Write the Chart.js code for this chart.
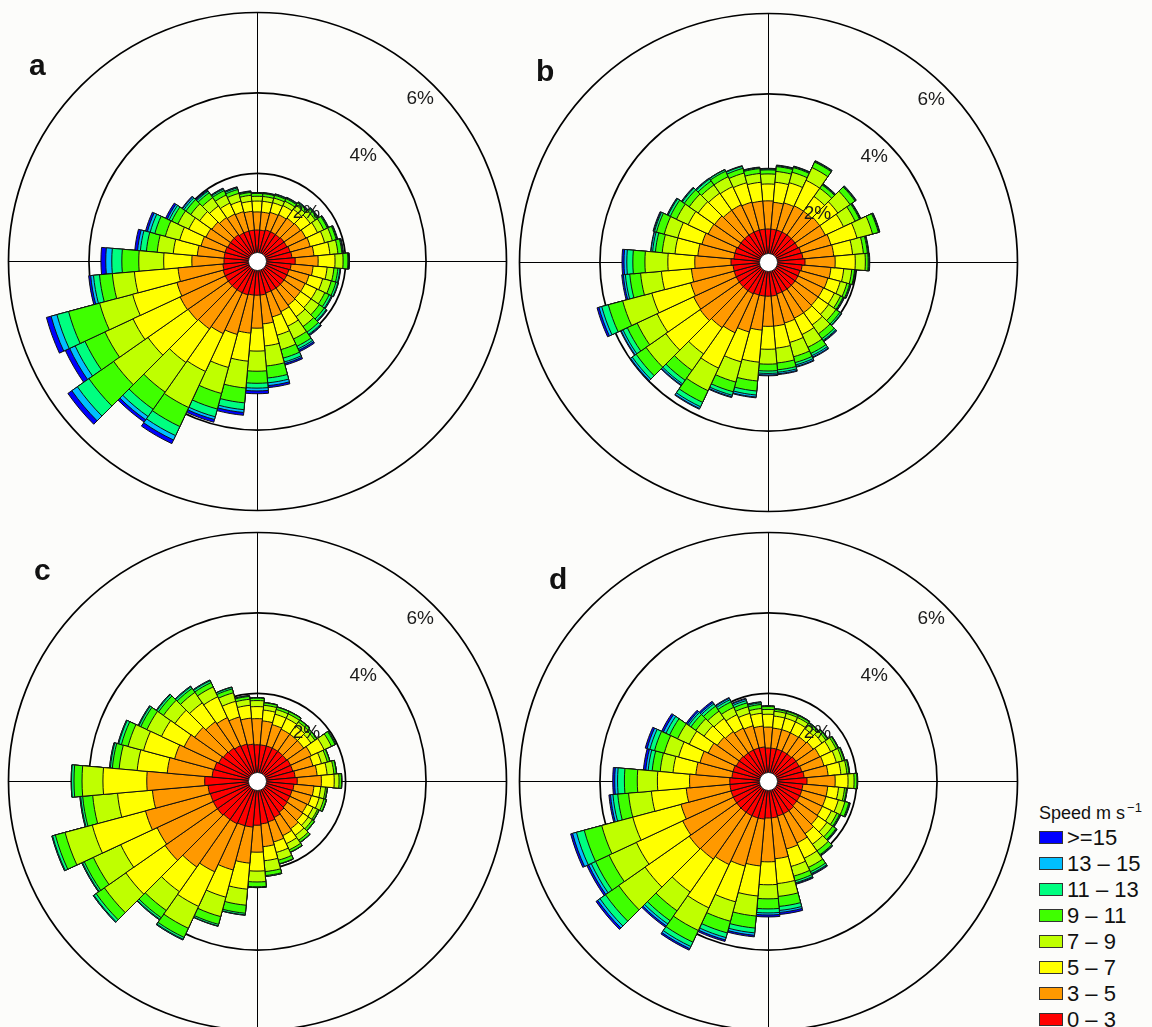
<!DOCTYPE html>
<html>
<head>
<meta charset="utf-8">
<title>Wind roses</title>
<script src="https://cdn.jsdelivr.net/npm/chart.js@4.4.1/dist/chart.umd.min.js"></script>
<style>
  html, body { margin: 0; padding: 0; width: 1152px; height: 1027px; overflow: hidden; background: #fcfcfa; }
  body { position: relative; font-family: "Liberation Sans", Arial, Helvetica, sans-serif; color: #111; }
  canvas.rose { position: absolute; }
  .tag { position: absolute; font-weight: bold; font-size: 30px; line-height: 30px; color: #111; }
  .legend-title { position: absolute; font-size: 18px; line-height: 18px; white-space: nowrap; }
  .legend-title sup { font-size: 13px; vertical-align: 7px; line-height: 0; margin-left: 2px; }
  .legend-box { position: absolute; width: 22px; height: 11px; border: 1px solid #333; }
  .legend-text { position: absolute; font-size: 22px; line-height: 22px; white-space: nowrap; }
</style>
</head>
<body>
<canvas id="rose-a" class="rose" width="506" height="506" style="left:4px;top:8px"></canvas>
<canvas id="rose-b" class="rose" width="506" height="506" style="left:515px;top:9px"></canvas>
<canvas id="rose-c" class="rose" width="506" height="506" style="left:4px;top:528px"></canvas>
<canvas id="rose-d" class="rose" width="506" height="506" style="left:515px;top:528px"></canvas>
<div class="tag" style="left:29px;top:50px">a</div>
<div class="tag" style="left:536px;top:56px">b</div>
<div class="tag" style="left:34px;top:555px">c</div>
<div class="tag" style="left:549px;top:564px">d</div>
<div id="legend"></div>
<script>
// Wind direction bins (degrees, centre of each 10° sector, clockwise from north)
const DIRECTIONS = [0, 10, 20, 30, 40, 50, 60, 70, 80, 90, 100, 110, 120, 130, 140, 150, 160, 170,
                    180, 190, 200, 210, 220, 230, 240, 250, 260, 270, 280, 290, 300, 310, 320, 330, 340, 350];
// Wind speed classes (m s-1), innermost first
const SPEED_BINS = ['0 \u2013 3', '3 \u2013 5', '5 \u2013 7', '7 \u2013 9', '9 \u2013 11', '11 \u2013 13', '13 \u2013 15', '>=15'];
const COLORS = ['#ff0000', '#ff9900', '#ffff00', '#bfff00', '#3fff00', '#00ff80', '#00bfff', '#0000ff'];
// Frequency rings (%)
const RINGS = [2, 4, 6];
const RING_LABELS = ['2%', '4%', '6%'];

// Panel a: frequency (%) per direction for each speed class
const a_0_3   = [0.58,0.58,0.61,0.61,0.61,0.63,0.63,0.66,0.68,0.76,0.66,0.63,0.63,0.63,0.63,0.63,0.63,0.66,0.66,0.66,0.68,0.68,0.68,0.68,0.68,0.68,0.66,0.63,0.63,0.63,0.61,0.61,0.61,0.58,0.58,0.58];
const a_3_5   = [0.45,0.45,0.45,0.47,0.50,0.50,0.52,0.52,0.55,0.57,0.55,0.52,0.50,0.50,0.52,0.57,0.62,0.72,0.82,0.95,1.02,1.12,1.19,1.22,1.24,1.19,1.12,0.80,0.67,0.62,0.60,0.57,0.52,0.52,0.50,0.47];
const a_5_7   = [0.27,0.27,0.25,0.25,0.27,0.30,0.32,0.37,0.40,0.42,0.35,0.35,0.32,0.32,0.35,0.40,0.47,0.55,0.57,0.70,0.85,1.04,1.02,1.22,1.29,1.14,1.09,0.70,0.60,0.55,0.47,0.37,0.35,0.30,0.27,0.25];
const a_7_9   = [0.12,0.12,0.12,0.12,0.12,0.15,0.17,0.20,0.20,0.20,0.17,0.22,0.22,0.25,0.30,0.35,0.37,0.50,0.50,0.67,0.67,0.99,0.90,1.04,0.77,0.85,0.55,0.62,0.40,0.37,0.30,0.27,0.25,0.22,0.20,0.15];
const a_9_11  = [0.07,0.07,0.07,0.07,0.07,0.07,0.10,0.10,0.10,0.12,0.10,0.12,0.12,0.15,0.17,0.20,0.22,0.30,0.30,0.37,0.40,0.52,0.52,0.75,0.55,0.80,0.32,0.42,0.27,0.27,0.17,0.15,0.15,0.12,0.10,0.07];
const a_11_13 = [0.01,0.01,0.02,0.02,0.02,0.02,0.02,0.02,0.02,0.02,0.05,0.05,0.06,0.06,0.07,0.07,0.10,0.12,0.12,0.17,0.20,0.25,0.22,0.35,0.27,0.30,0.15,0.25,0.15,0.12,0.07,0.06,0.05,0.04,0.04,0.02];
const a_13_15 = [0.01,0.01,0.01,0.01,0.01,0.01,0.01,0.01,0.01,0.01,0.01,0.01,0.02,0.02,0.02,0.04,0.04,0.07,0.07,0.07,0.07,0.12,0.10,0.17,0.15,0.15,0.07,0.15,0.07,0.07,0.05,0.04,0.02,0.02,0.02,0.01];
const a_15    = [0.00,0.01,0.01,0.01,0.01,0.01,0.01,0.01,0.01,0.01,0.01,0.01,0.01,0.01,0.02,0.04,0.04,0.05,0.07,0.07,0.07,0.10,0.07,0.12,0.12,0.12,0.05,0.12,0.07,0.05,0.05,0.02,0.02,0.01,0.01,0.01];

// Panel b
const b_0_3   = [0.63,0.63,0.63,0.63,0.63,0.63,0.63,0.66,0.68,0.73,0.66,0.63,0.63,0.63,0.63,0.63,0.63,0.66,0.66,0.66,0.66,0.68,0.68,0.68,0.68,0.68,0.68,0.73,0.66,0.66,0.63,0.63,0.63,0.63,0.63,0.63];
const b_3_5   = [0.70,0.67,0.70,0.72,0.72,0.75,0.75,0.77,0.77,0.75,0.72,0.72,0.70,0.70,0.72,0.72,0.75,0.75,0.75,0.85,0.95,1.07,1.12,1.19,1.17,1.12,1.04,0.90,0.90,0.85,0.82,0.80,0.75,0.75,0.72,0.70];
const b_5_7   = [0.42,0.50,0.52,0.70,0.45,0.55,0.50,0.67,0.47,0.50,0.32,0.32,0.30,0.32,0.37,0.45,0.50,0.55,0.57,0.80,0.77,0.97,0.80,1.04,1.00,1.00,0.75,0.67,0.57,0.62,0.55,0.50,0.52,0.50,0.50,0.47];
const b_7_9   = [0.25,0.27,0.27,0.35,0.25,0.37,0.32,0.40,0.27,0.25,0.20,0.17,0.17,0.22,0.27,0.35,0.37,0.37,0.37,0.47,0.52,0.62,0.50,0.60,0.55,0.75,0.52,0.57,0.32,0.35,0.32,0.27,0.25,0.27,0.25,0.22];
const b_9_11  = [0.10,0.12,0.12,0.15,0.10,0.15,0.12,0.15,0.10,0.07,0.07,0.07,0.07,0.12,0.15,0.17,0.15,0.17,0.17,0.25,0.25,0.32,0.30,0.30,0.27,0.37,0.27,0.30,0.17,0.20,0.17,0.15,0.12,0.15,0.12,0.12];
const b_11_13 = [0.02,0.02,0.02,0.02,0.02,0.02,0.02,0.02,0.02,0.02,0.01,0.02,0.02,0.04,0.05,0.06,0.06,0.06,0.06,0.10,0.09,0.12,0.11,0.12,0.12,0.17,0.11,0.15,0.07,0.05,0.06,0.06,0.06,0.04,0.05,0.02];
const b_13_15 = [0.01,0.01,0.01,0.01,0.01,0.01,0.01,0.01,0.01,0.01,0.01,0.01,0.01,0.01,0.02,0.04,0.04,0.04,0.04,0.05,0.04,0.05,0.04,0.05,0.05,0.07,0.05,0.07,0.04,0.02,0.02,0.02,0.02,0.01,0.01,0.01];
const b_15    = [0.01,0.01,0.01,0.01,0.01,0.01,0.01,0.01,0.01,0.01,0.00,0.01,0.01,0.01,0.02,0.02,0.02,0.02,0.02,0.02,0.02,0.02,0.02,0.02,0.02,0.05,0.04,0.05,0.01,0.02,0.01,0.01,0.01,0.00,0.01,0.01];

// Panel c
const c_0_3   = [0.71,0.71,0.71,0.71,0.71,0.71,0.73,0.73,0.76,0.81,0.73,0.71,0.71,0.73,0.76,0.81,0.86,0.88,0.91,0.96,0.96,0.98,0.98,1.01,1.01,1.01,1.03,1.11,0.93,0.91,0.86,0.83,0.81,0.78,0.76,0.73];
const c_3_5   = [0.65,0.60,0.55,0.52,0.52,0.52,0.57,0.52,0.55,0.60,0.50,0.50,0.47,0.47,0.50,0.50,0.52,0.57,0.67,0.90,1.14,1.32,1.44,1.59,1.54,1.67,1.39,1.44,1.12,1.02,0.95,0.87,0.80,0.77,0.70,0.65];
const c_5_7   = [0.30,0.27,0.27,0.30,0.25,0.22,0.35,0.22,0.25,0.32,0.17,0.20,0.17,0.17,0.20,0.22,0.27,0.35,0.47,0.65,0.70,0.95,0.75,1.19,1.00,1.37,0.87,1.09,0.75,0.80,0.62,0.60,0.57,0.57,0.40,0.32];
const c_7_9   = [0.15,0.12,0.12,0.12,0.12,0.12,0.20,0.15,0.17,0.12,0.12,0.12,0.12,0.12,0.15,0.17,0.20,0.27,0.27,0.40,0.50,0.60,0.57,0.65,0.75,0.70,0.62,0.52,0.45,0.40,0.40,0.35,0.32,0.27,0.22,0.15];
const c_9_11  = [0.06,0.06,0.06,0.06,0.06,0.06,0.10,0.06,0.06,0.06,0.04,0.06,0.04,0.06,0.06,0.06,0.09,0.10,0.12,0.20,0.20,0.25,0.22,0.25,0.25,0.25,0.25,0.20,0.17,0.17,0.17,0.15,0.12,0.12,0.10,0.07];
const c_11_13 = [0.01,0.01,0.01,0.01,0.01,0.01,0.02,0.01,0.01,0.01,0.01,0.01,0.01,0.01,0.01,0.01,0.01,0.02,0.02,0.04,0.04,0.05,0.05,0.07,0.05,0.07,0.05,0.06,0.05,0.07,0.05,0.05,0.05,0.05,0.04,0.02];
const c_13_15 = [0,0,0,0,0,0,0,0,0,0,0,0,0,0,0,0,0,0,0,0.01,0.01,0.02,0.02,0.02,0.02,0.02,0.02,0.01,0.02,0.02,0.02,0.02,0.02,0.02,0.01,0];
const c_15    = [0,0,0,0,0,0,0,0,0,0,0,0,0,0,0,0,0,0,0,0,0,0,0,0,0,0,0,0,0,0,0,0,0,0,0,0];

// Panel d
const d_0_3   = [0.63,0.63,0.63,0.63,0.63,0.66,0.66,0.68,0.71,0.78,0.68,0.68,0.68,0.68,0.71,0.71,0.71,0.73,0.73,0.76,0.76,0.76,0.76,0.76,0.76,0.76,0.76,0.76,0.71,0.71,0.68,0.68,0.66,0.66,0.66,0.66];
const d_3_5   = [0.52,0.50,0.50,0.50,0.52,0.52,0.57,0.57,0.60,0.70,0.62,0.62,0.62,0.65,0.70,0.80,0.85,1.02,1.09,1.17,1.24,1.34,1.42,1.44,1.39,1.29,1.09,1.00,0.90,0.85,0.77,0.67,0.65,0.60,0.57,0.52];
const d_5_7   = [0.32,0.30,0.30,0.30,0.25,0.27,0.30,0.32,0.32,0.32,0.27,0.32,0.25,0.27,0.32,0.42,0.45,0.62,0.57,0.75,0.92,1.19,1.00,1.34,1.27,1.24,0.87,0.80,0.57,0.55,0.52,0.40,0.40,0.37,0.32,0.32];
const d_7_9   = [0.12,0.12,0.12,0.12,0.12,0.12,0.15,0.15,0.15,0.15,0.15,0.17,0.15,0.17,0.20,0.25,0.25,0.32,0.35,0.50,0.50,0.62,0.57,0.80,0.75,0.80,0.57,0.50,0.32,0.37,0.32,0.25,0.22,0.20,0.17,0.12];
const d_9_11  = [0.07,0.05,0.05,0.05,0.05,0.05,0.05,0.05,0.05,0.07,0.05,0.10,0.07,0.10,0.12,0.12,0.12,0.25,0.25,0.30,0.30,0.32,0.30,0.40,0.37,0.45,0.27,0.32,0.20,0.25,0.22,0.15,0.15,0.15,0.10,0.10];
const d_11_13 = [0.01,0.01,0.01,0.01,0.01,0.01,0.01,0.01,0.01,0.01,0.01,0.02,0.02,0.02,0.02,0.05,0.05,0.10,0.10,0.12,0.12,0.12,0.10,0.17,0.12,0.20,0.12,0.17,0.10,0.12,0.10,0.07,0.07,0.06,0.06,0.04];
const d_13_15 = [0.01,0.01,0.01,0.01,0.01,0.01,0.01,0.01,0.01,0.01,0.01,0.01,0.01,0.01,0.01,0.02,0.02,0.05,0.05,0.06,0.06,0.06,0.06,0.07,0.07,0.10,0.06,0.07,0.06,0.07,0.07,0.04,0.04,0.04,0.04,0.02];
const d_15    = [0,0,0,0,0,0,0,0,0,0,0,0.01,0.01,0.01,0.01,0.02,0.02,0.05,0.05,0.04,0.04,0.04,0.04,0.05,0.05,0.05,0.04,0.05,0.06,0.05,0.05,0.04,0.04,0.02,0.02,0.01];

const PANELS = [
  { canvas: 'rose-a', bins: [a_0_3, a_3_5, a_5_7, a_7_9, a_9_11, a_11_13, a_13_15, a_15] },
  { canvas: 'rose-b', bins: [b_0_3, b_3_5, b_5_7, b_7_9, b_9_11, b_11_13, b_13_15, b_15] },
  { canvas: 'rose-c', bins: [c_0_3, c_3_5, c_5_7, c_7_9, c_9_11, c_11_13, c_13_15, c_15] },
  { canvas: 'rose-d', bins: [d_0_3, d_3_5, d_5_7, d_7_9, d_9_11, d_11_13, d_13_15, d_15] }
];

// Radial axis runs slightly below zero so the calm disc sits at the centre
const R_MIN = -0.19;
const R_MAX = 6;

// Running totals: each speed class is drawn as a wedge reaching its cumulative frequency,
// inner classes painted over outer ones, which gives stacked segments.
function stackBins(bins) {
  const totals = new Array(DIRECTIONS.length).fill(0);
  return bins.map(values => {
    values.forEach((v, i) => { totals[i] = Math.round((totals[i] + v) * 10000) / 10000; });
    return totals.slice();
  });
}

const roseFrame = {
  id: 'roseFrame',
  beforeDatasetsDraw(chart) {
    const s = chart.scales.r;
    const ctx = chart.ctx;
    const cx = s.xCenter, cy = s.yCenter;
    const outer = s.getDistanceFromCenterForValue(RINGS[RINGS.length - 1]);
    ctx.save();
    ctx.strokeStyle = '#000';
    ctx.lineWidth = 1;
    ctx.beginPath();
    ctx.moveTo(cx - outer, cy + 0.5);
    ctx.lineTo(cx + outer, cy + 0.5);
    ctx.moveTo(cx + 0.5, cy - outer);
    ctx.lineTo(cx + 0.5, cy + outer);
    ctx.stroke();
    ctx.lineWidth = 1.7;
    RINGS.forEach(v => {
      ctx.beginPath();
      ctx.arc(cx + 0.5, cy + 0.5, s.getDistanceFromCenterForValue(v), 0, Math.PI * 2);
      ctx.stroke();
    });
    ctx.restore();
  },
  afterDatasetsDraw(chart) {
    const s = chart.scales.r;
    const ctx = chart.ctx;
    const cx = s.xCenter + 0.5, cy = s.yCenter + 0.5;
    ctx.save();
    // calm centre
    ctx.beginPath();
    ctx.arc(cx, cy, s.getDistanceFromCenterForValue(0) + 1.4, 0, Math.PI * 2);
    ctx.fillStyle = '#ffffff';
    ctx.fill();
    ctx.lineWidth = 1;
    ctx.strokeStyle = '#222';
    ctx.stroke();
    // ring labels along the north-east diagonal
    ctx.fillStyle = '#1a1a1a';
    ctx.font = '19px "Liberation Sans", Arial, sans-serif';
    ctx.textAlign = 'center';
    ctx.textBaseline = 'middle';
    RINGS.forEach((v, i) => {
      const d = s.getDistanceFromCenterForValue(v) - 19;
      ctx.fillText(RING_LABELS[i], cx + d * Math.SQRT1_2, cy - d * Math.SQRT1_2);
    });
    ctx.restore();
  }
};

PANELS.forEach(panel => {
  const stacked = stackBins(panel.bins);
  new Chart(document.getElementById(panel.canvas), {
    type: 'polarArea',
    data: {
      labels: DIRECTIONS.map(d => d + '\u00b0'),
      datasets: stacked.map((data, k) => ({
        label: SPEED_BINS[k],
        data: data,
        backgroundColor: COLORS[k],
        borderColor: '#111',
        borderWidth: 1
      }))
    },
    options: {
      responsive: false,
      animation: false,
      events: [],
      layout: { padding: 4 },
      plugins: { legend: { display: false }, tooltip: { enabled: false } },
      scales: {
        r: {
          min: R_MIN,
          max: R_MAX,
          startAngle: -5,
          ticks: { display: false },
          grid: { display: false },
          angleLines: { display: false },
          pointLabels: { display: false }
        }
      }
    },
    plugins: [roseFrame]
  });
});

// Speed legend, fastest class on top
(function buildLegend() {
  const host = document.getElementById('legend');
  const title = document.createElement('div');
  title.className = 'legend-title';
  title.style.left = '1039px';
  title.style.top = '804px';
  title.innerHTML = 'Speed m s<sup>\u22121</sup>';
  host.appendChild(title);
  const fontSize = 22;
  for (let row = 0; row < SPEED_BINS.length; row++) {
    const k = SPEED_BINS.length - 1 - row;
    const centre = 837.2 + 26 * row;
    const box = document.createElement('div');
    box.className = 'legend-box';
    box.style.left = '1039px';
    box.style.top = Math.round(centre - 6.5) + 'px';
    box.style.background = COLORS[k];
    host.appendChild(box);
    const text = document.createElement('div');
    text.className = 'legend-text';
    text.style.left = '1067px';
    text.style.top = (centre - 0.4885 * fontSize).toFixed(1) + 'px';
    text.textContent = SPEED_BINS[k];
    host.appendChild(text);
  }
})();
</script>
</body>
</html>
